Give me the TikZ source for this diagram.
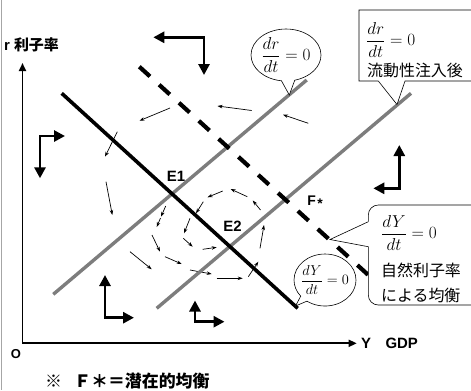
\documentclass[tikz,border=0pt]{standalone}
\usepackage{amsmath}
\usepackage{fontspec}
\newfontfamily\jp{Noto Sans CJK JP}
\newfontfamily\lat{Liberation Sans}
\usetikzlibrary{arrows.meta,shapes.callouts}
\definecolor{lmgray}{RGB}{125,125,125}
\newcommand\fs[1]{\fontsize{#1}{#1}\selectfont}
\begin{document}
\begin{tikzpicture}[x=1bp,y=-1bp,
  frameline/.style={draw=gray!70,line width=1.5bp},
  axisline/.style={line width=1.8bp,line join=miter,{Triangle[length=8bp,width=7bp]}-{Triangle[length=8bp,width=7bp]}},
  isline/.style={line width=3.6bp},
  shiftline/.style={line width=4.2bp,dash pattern=on 14.4bp off 12.4bp},
  lmline/.style={line width=3.4bp,draw=lmgray},
  bigarrow/.style={line width=2.8bp,line join=miter,{Triangle[length=11bp,width=11bp]}-{Triangle[length=11bp,width=11bp]}},
  flow/.style={line width=0.7bp,-{Stealth[length=5bp,width=3.5bp]}},
  callout/.style={draw,fill=white,line width=0.6bp},
  jplbl/.style={inner sep=0pt,font=\jp\bfseries\fs{15}},
  latlbl/.style={inner sep=0pt,font=\lat\bfseries\fs{15}},
  mathlbl/.style={inner sep=0pt,font=\fs{17.5}},
  jptext/.style={inner sep=0pt,font=\jp\fs{16},anchor=west},
]
\useasboundingbox (0,0) rectangle (471,390);
\clip (0,0) rectangle (471,390);

% left frame
\draw[frameline] (1.5,0) -- (1.5,390);

% axes
\coordinate (ytop) at (22.5,63);
\coordinate (O) at (22.5,343.3);
\coordinate (xend) at (356.7,343.3);
\draw[axisline] (ytop) -- (O) -- (xend);
\node[latlbl,anchor=west] (rlab) at (4,45) {r\hspace{4bp}{\jp\bfseries 利子率}};
\node[latlbl,font=\lat\bfseries\fs{13}] (olab) at (15.8,354) {O};
\node[latlbl] (ylab) at (366,343.5) {Y};
\node[latlbl] (gdp) at (401.7,343.5) {GDP};
\node[jplbl,font=\jp\bfseries\fs{17},anchor=west] (note) at (45,381.5) {※\hspace{12bp}Ｆ＊＝潜在的均衡};

% flow arrows
\draw[flow] (170,108) -- (139.5,120.7);
\draw[flow] (251.7,110.5) -- (217.5,106);
\draw[flow] (308.3,123.3) -- (283,114.7);
\draw[flow] (117.3,131.7) -- (105,156.7);
\draw[flow] (106,181.7) -- (112.3,215);
\draw[flow] (222.7,191) -- (207.5,197.3);
\draw[flow] (247.3,196.7) -- (230.5,189);
\draw[flow] (260.5,210) -- (252.7,200.5);
\draw[flow] (165.7,206) -- (161,216.7);
\draw[flow] (160.5,218) -- (156.7,227);
\draw[flow] (203.3,201.7) -- (196,213.3);
\draw[flow] (190,218.3) -- (184,233.3);
\draw[flow] (152,235) -- (160,251.7);
\draw[flow] (183.3,238.3) -- (192.7,246.7);
\draw[flow] (202.7,249.3) -- (216.7,247.3);
\draw[flow] (130,251.7) -- (151.7,269.3);
\draw[flow] (165,256.7) -- (181.7,264);
\draw[flow] (190,270) -- (211.7,274);
\draw[flow] (216.7,278.3) -- (242.7,278.3);
\draw[flow] (248.3,276.7) -- (258.3,261.7);
\draw[flow] (260,248.3) -- (264,225);

% big direction arrows
\draw[bigarrow] (153.3,37.3) -- (204,37.3) -- (204,75);
\draw[bigarrow] (40,178.3) -- (40,136) -- (65,136);
\draw[bigarrow] (105,275) -- (105,317.7) -- (134,317.7);
\draw[bigarrow] (195,300.5) -- (195,321.7) -- (224.5,321.7);
\draw[bigarrow] (399.3,145) -- (399.3,188.3) -- (373.3,188.3);

% curves
\coordinate (is1) at (61.7,93.3);   \coordinate (is2) at (297.7,308.3);
\coordinate (fs1) at (139.3,66.7);  \coordinate (fs2) at (368.3,275);
\coordinate (lma) at (53.3,294.3);  \coordinate (lmb) at (306.7,80);
\coordinate (lmc) at (156.7,308.3); \coordinate (lmd) at (411,93.3);
\draw[lmline] (lma) -- (lmb);
\draw[lmline] (lmc) -- (lmd);
\draw[isline] (is1) -- (is2);
\draw[shiftline] (fs1) -- (fs2);

\node[latlbl] (e1) at (176,176) {E1};
\node[latlbl] (e2) at (232.5,226) {E2};
\node[latlbl,font=\lat\bfseries\fs{14}] (fstar) at (315,202) {F\kern1.5bp\raisebox{-3bp}{*}};

% callouts
\coordinate (tip1) at (289.3,95);
\coordinate (tip2) at (397,104.5);
\coordinate (tip3) at (330,239.5);
\coordinate (tip4) at (295.5,306);

\node[ellipse callout,callout,minimum width=70bp,minimum height=52bp,inner sep=0pt,
      callout absolute pointer={(tip1)},callout pointer arc=22] (c1) at (286,55) {};
\node[mathlbl] (c1t) at (c1.center) {$\dfrac{dr}{dt}=0$};

\node[ellipse callout,callout,minimum width=62bp,minimum height=52bp,inner sep=0pt,
      callout absolute pointer={(tip4)},callout pointer arc=16] (c4) at (325,280) {};
\node[mathlbl,font=\fs{15.5}] (c4t) at (c4.center) {$\dfrac{dY}{dt}=0$};

\draw[callout] (378.3,81) -- (359,81) -- (359,10) -- (490,10) -- (490,81) -- (405,81) -- (tip2) -- cycle;
\node[mathlbl,anchor=west] (c2a) at (366,40) {$\dfrac{dr}{dt}=0$};
\node[jptext] (c2b) at (367,70) {流動性注入後};

\draw[callout,rounded corners=10bp] (368.3,246.7) -- (368.3,305) -- (490,305) -- (490,205) -- (368.3,205) -- (368.3,221.7);
\draw[line width=0.6bp] (368.3,221.7) -- (tip3) -- (368.3,246.7);
\node[mathlbl,anchor=west] (c3a) at (381,233) {$\dfrac{dY}{dt}=0$};
\node[jptext] (c3b) at (381,270) {自然利子率};
\node[jptext] (c3c) at (381,295) {による均衡};
\end{tikzpicture}
\end{document}
